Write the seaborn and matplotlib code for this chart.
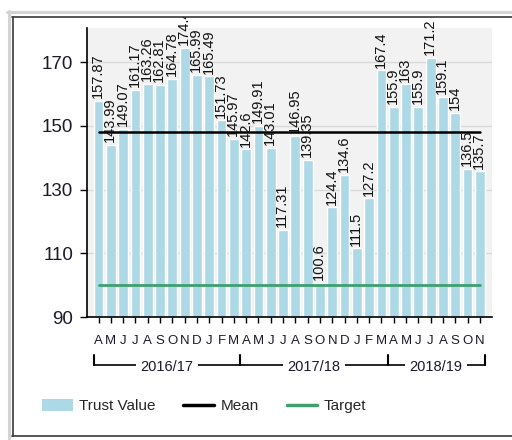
import matplotlib
matplotlib.use("Agg")
import numpy as np
import pandas as pd
import matplotlib.pyplot as plt
from matplotlib.patches import Patch, Rectangle
from matplotlib.lines import Line2D
from matplotlib.transforms import blended_transform_factory
import seaborn as sns

# Monthly trust values, April 2016 to November 2018
months = list("AMJJASONDJFM") * 2 + list("AMJJASON")
years = ["2016/17", "2017/18", "2018/19"]
year_bounds = [-0.4, 11.5, 23.5, 31.4]
trust_value = [157.87, 143.99, 149.07, 161.17, 163.26, 162.81, 164.78, 174.4,
               165.99, 165.49, 151.73, 145.97, 142.6, 149.91, 143.01, 117.31,
               146.95, 139.35, 100.6, 124.4, 134.6, 111.5, 127.2, 167.4,
               155.9, 163.0, 155.9, 171.2, 159.1, 154.0, 136.5, 135.7]
target = 100
y_ticks = [90, 110, 130, 150, 170]

W, H = 512, 440
BAR = "#add8e6"
GREEN = "#3f9f6f"

sns.set_theme(style="ticks")
plt.rcParams["font.family"] = ["Liberation Sans", "DejaVu Sans"]


def px(x, y):
    return x / W, 1 - y / H


fig = plt.figure(figsize=(W / 100, H / 100), dpi=100)
fig.patch.set_facecolor("white")
ax = fig.add_axes([87 / W, 1 - 317 / H, (492 - 87) / W, (317 - 28) / H])

n = len(trust_value)
df = pd.DataFrame({"pos": np.arange(n), "value": trust_value})
sns.barplot(data=df, x="pos", y="value", color=BAR, saturation=1, width=0.8,
            ax=ax, zorder=2)

mean_value = float(np.mean(trust_value))
ax.plot([0, n - 1], [mean_value, mean_value], color="black", lw=1.8, zorder=3)
ax.plot([0, n - 1], [target, target], color=GREEN, lw=2, zorder=3)

for i, v in enumerate(trust_value):
    ax.annotate(f"{v:g}", (i, v), xytext=(-0.5, 2), textcoords="offset points",
                rotation=90, ha="center", va="bottom", fontsize=10.5,
                color="#111111", zorder=4, annotation_clip=False)

ax.set_facecolor("#f2f2f2")
ax.set_xlim(-0.94, 31.99)
ax.set_ylim(90, 180.7)
ax.set_yticks(y_ticks)
ax.set_xticks(np.arange(n))
ax.set_xticklabels(months)
ax.set_xlabel("")
ax.set_ylabel("")
ax.set_axisbelow(True)
ax.yaxis.grid(True, color="#d9d9d9", lw=1)
ax.xaxis.grid(False)
for side in ("top", "right"):
    ax.spines[side].set_visible(False)
for side in ("left", "bottom"):
    ax.spines[side].set_color("black")
    ax.spines[side].set_linewidth(1.2)
ax.tick_params(axis="x", length=4, width=1, pad=9, labelsize=9.5,
               colors="black", labelcolor="#1a1a2a")
ax.tick_params(axis="y", length=5, width=1, pad=5, labelsize=13.5,
               colors="black", labelcolor="#1a1a2a")

# financial-year brackets under the month letters
trans = blended_transform_factory(ax.transData, fig.transFigure)
y_line = 1 - 365 / H
y_top = 1 - 355 / H
ax.plot([year_bounds[0], year_bounds[-1]], [y_line, y_line], color="black",
        lw=1.2, transform=trans, clip_on=False)
for xb in year_bounds:
    ax.plot([xb, xb], [y_line, y_top], color="black", lw=1.5,
            transform=trans, clip_on=False)
for k, label in enumerate(years):
    mid = (year_bounds[k] + year_bounds[k + 1]) / 2
    ax.text(mid, y_line, label, transform=trans, ha="center",
            va="center_baseline", fontsize=10.5, color="#1a1a2a",
            bbox=dict(facecolor="white", edgecolor="none", pad=3))

handles = [Patch(facecolor=BAR, edgecolor="none"),
           Line2D([], [], color="black", lw=2.5),
           Line2D([], [], color=GREEN, lw=2.5)]
fig.legend(handles, ["Trust Value", "Mean", "Target"], loc="center left",
           bbox_to_anchor=px(42, 406), ncol=3, frameon=False, fontsize=11,
           handlelength=2.0, handleheight=0.8, handletextpad=0.45,
           columnspacing=1.8, borderpad=0, borderaxespad=0)

# window frame around the chart
fig.add_artist(Rectangle(px(0, 17), 1, 17 / H, transform=fig.transFigure,
                         facecolor="white", edgecolor="none", zorder=5))
light = "#d4d4d4"
dark = "#3a3a3a"
fig.add_artist(Line2D(*zip(px(7, 12.5), px(W, 12.5)), transform=fig.transFigure,
                      color=light, lw=2.2, zorder=6))
fig.add_artist(Line2D(*zip(px(8.5, 11), px(8.5, H)), transform=fig.transFigure,
                      color=light, lw=2.2, zorder=6))
fig.add_artist(Line2D(*zip(px(12, 17.5), px(W, 17.5)), transform=fig.transFigure,
                      color=dark, lw=1.2, zorder=6))
fig.add_artist(Line2D(*zip(px(12.5, 17), px(12.5, 436)), transform=fig.transFigure,
                      color=dark, lw=1.2, zorder=6))
fig.add_artist(Line2D(*zip(px(12, 436), px(W, 436)), transform=fig.transFigure,
                      color=dark, lw=1.2, zorder=6))

fig.savefig("out.png", dpi=100)
